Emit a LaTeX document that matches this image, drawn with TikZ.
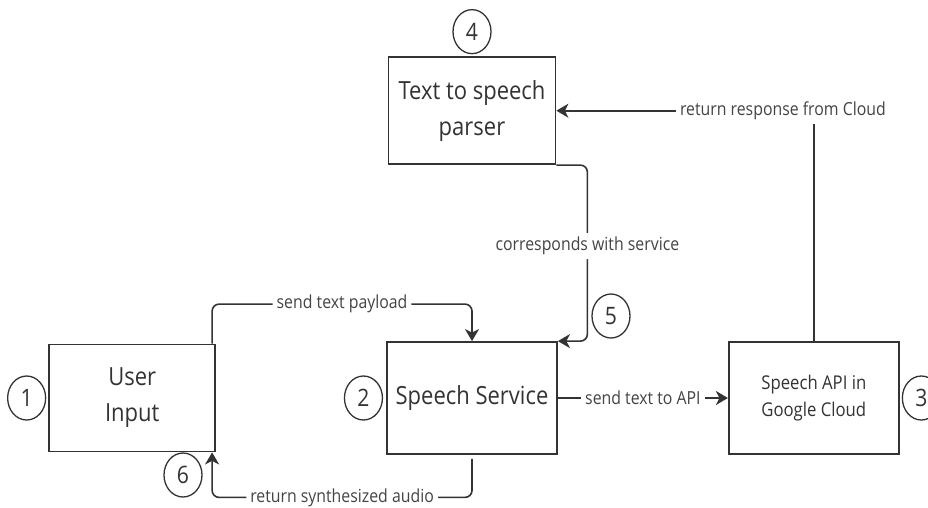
\documentclass[tikz,border=0pt]{standalone}
\usepackage{fontspec}
\setmainfont{Open Sans}[FakeStretch=0.88]
\usepackage{xcolor}
\usetikzlibrary{shapes.geometric,arrows.meta,positioning,calc}
\definecolor{ink}{HTML}{333333}
\definecolor{lblgray}{HTML}{444444}

\begin{document}
\begin{tikzpicture}[
  x=1pt, y=-1pt,
  box/.style={rectangle, draw=ink, line width=1.8pt, text=ink,
              minimum width=170pt, minimum height=112pt,
              align=center, font=\fontsize{25}{36}\selectfont},
  num/.style={ellipse, draw=ink, line width=1.3pt, text=ink, inner sep=0pt,
              minimum width=38pt, minimum height=44pt,
              font=\fontsize{24}{28}\selectfont},
  lbl/.style={fill=white, text=lblgray, inner sep=4pt,
              font=\fontsize{18}{22}\selectfont},
  arr/.style={-{Stealth[length=12pt,width=14pt,inset=3.5pt]}, line width=1.6pt, draw=ink},
]
\useasboundingbox (0,0) rectangle (928,507);
\node[box] (svc) at (472,398) {Speech Service};
\node[box, minimum width=166pt, minimum height=107pt, left=170pt of svc] (user) {User\\Input};
\node[box, right=170pt of svc, font=\fontsize{19}{27}\selectfont] (api) {Speech API in\\Google Cloud};
\node[box, minimum width=167pt, minimum height=107pt, above=176pt of svc] (parser) {Text to speech\\parser};
\node[num, left=2pt of user] (n1) {1};
\node[num, left=3pt of svc] (n2) {2};
\node[num, right=2pt of api] (n3) {3};
\node[num, above=2pt of parser] (n4) {4};
\node[num] (n5) at (611,316) {5};
\node[num] (n6) at (183,475) {6};
\draw[arr, rounded corners=7pt] ([xshift=-4pt]user.north east) |- node[lbl, pos=0.75]{send text payload} ($(svc.north)+(0,-37)$) -- (svc.north);
\draw[arr, rounded corners=7pt] ([yshift=-4pt]svc.south) |- node[lbl, pos=0.75]{return synthesized audio} ($(user.south east)+(-4,45)$) -- ([xshift=-4pt]user.south east);
\draw[arr] (svc.east) -- node[lbl]{send text to API} (api.west);
\draw[arr] (api.north) |- node[lbl, pos=0.56]{return response from Cloud} (parser.east);
\draw[arr, rounded corners=7pt] (parser.south east) -- ++(31,0) |- node[lbl, pos=0.23]{corresponds with service} (svc.north east);
\end{tikzpicture}
\end{document}
